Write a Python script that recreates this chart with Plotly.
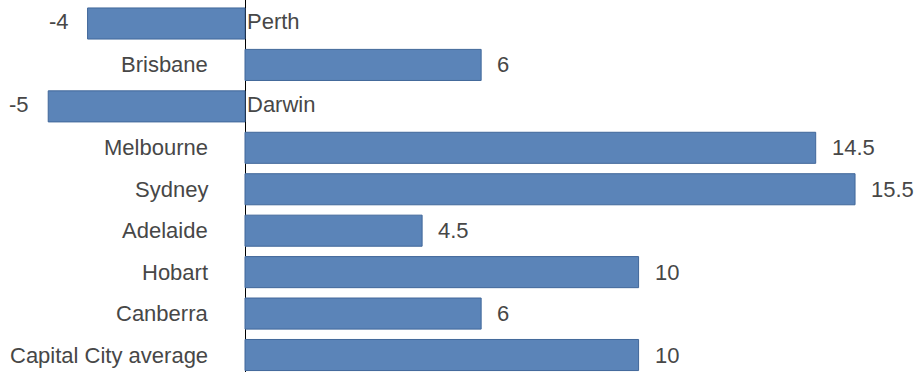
import plotly.graph_objects as go

cities = ["Perth", "Brisbane", "Darwin", "Melbourne", "Sydney", "Adelaide",
          "Hobart", "Canberra", "Capital City average"]
values = [-4, 6, -5, 14.5, 15.5, 4.5, 10, 6, 10]
value_labels = ["-4", "6", "-5", "14.5", "15.5", "4.5", "10", "6", "10"]

# bottom-to-top order for plotly categorical axis
y_order = list(reversed(cities))

BAR_FILL = "#5b84b8"
BAR_LINE = "#41679a"
TEXT = "#474747"
FONT = "Liberation Sans, Arial, sans-serif"
FS = 22

fig = go.Figure()
fig.add_trace(go.Bar(
    y=cities, x=values, orientation="h",
    marker=dict(color=BAR_FILL, line=dict(color=BAR_LINE, width=1)),
    hoverinfo="skip",
))

annotations = []
for c, v, lab in zip(cities, values, value_labels):
    if v >= 0:
        annotations.append(dict(x=0, y=c, xref="x", yref="y", text=c,
                                showarrow=False, xanchor="right", xshift=-35,
                                font=dict(size=FS, color=TEXT, family=FONT)))
        annotations.append(dict(x=v, y=c, xref="x", yref="y", text=lab,
                                showarrow=False, xanchor="left", xshift=14,
                                font=dict(size=FS, color=TEXT, family=FONT)))
    else:
        annotations.append(dict(x=0, y=c, xref="x", yref="y", text=c,
                                showarrow=False, xanchor="left", xshift=0,
                                yshift=2,
                                font=dict(size=FS, color=TEXT, family=FONT)))
        annotations.append(dict(x=v, y=c, xref="x", yref="y", text=lab,
                                showarrow=False, xanchor="right", xshift=-17,
                                yshift=2,
                                font=dict(size=FS, color=TEXT, family=FONT)))

fig.update_layout(
    width=919, height=372,
    margin=dict(l=0, r=0, t=0, b=0),
    paper_bgcolor="white", plot_bgcolor="white",
    showlegend=False,
    bargap=0.25,
    annotations=annotations,
    xaxis=dict(range=[-6.225, 17.125], showgrid=False, showticklabels=False,
               zeroline=True, zerolinecolor="black", zerolinewidth=1,
               fixedrange=True),
    yaxis=dict(categoryorder="array", categoryarray=y_order,
               range=[-0.41, 8.567], showgrid=False, showticklabels=False,
               zeroline=False, fixedrange=True),
)

fig.write_html("out.html", config={"displayModeBar": False})
